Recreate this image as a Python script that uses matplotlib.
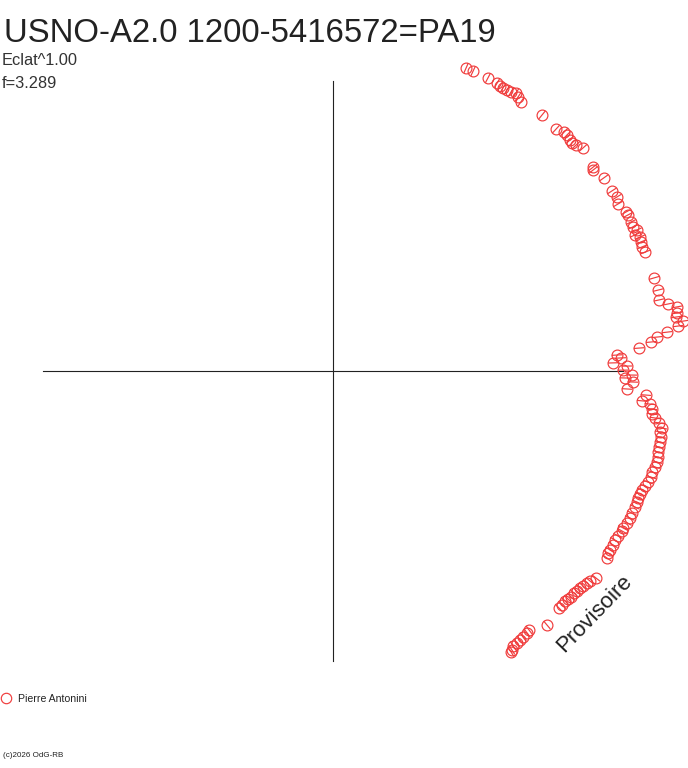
import numpy as np
import matplotlib
matplotlib.use("Agg")
import matplotlib.pyplot as plt
from matplotlib.collections import LineCollection
from matplotlib.lines import Line2D

plt.rcParams['font.family'] = ['Liberation Sans', 'DejaVu Sans']

x_vals = [0.459, 0.483, 0.534, 0.566, 0.576, 0.586, 0.600, 0.614, 0.631, 0.638,
          0.648, 0.721, 0.769, 0.797, 0.807, 0.817, 0.824, 0.838, 0.862, 0.897,
          0.897, 0.934, 0.962, 0.979, 0.983, 1.010, 1.017, 1.028, 1.034, 1.048,
          1.041, 1.059, 1.062, 1.066, 1.076, 1.107, 1.121, 1.124, 1.155, 1.186,
          1.186, 1.183, 1.207, 1.190, 1.152, 1.117, 1.097, 1.055, 0.979, 0.993,
          0.966, 1.014, 1.000, 1.031, 1.007, 1.034, 1.014, 1.079, 1.066, 1.093,
          1.100, 1.100, 1.110, 1.124, 1.134, 1.128, 1.131, 1.128, 1.124, 1.121,
          1.121, 1.117, 1.110, 1.100, 1.097, 1.086, 1.076, 1.066, 1.059, 1.052,
          1.048, 1.041, 1.031, 1.024, 1.014, 1.000, 0.997, 0.983, 0.972, 0.966,
          0.955, 0.948, 0.945, 0.907, 0.886, 0.876, 0.862, 0.852, 0.841, 0.831,
          0.821, 0.810, 0.800, 0.790, 0.779, 0.738, 0.676, 0.669, 0.655, 0.645,
          0.634, 0.621, 0.617, 0.614]
y_vals = [1.045, 1.034, 1.010, 0.993, 0.983, 0.976, 0.969, 0.962, 0.959, 0.945,
          0.928, 0.883, 0.834, 0.824, 0.814, 0.797, 0.786, 0.779, 0.769, 0.703,
          0.693, 0.666, 0.621, 0.600, 0.576, 0.548, 0.538, 0.514, 0.497, 0.486,
          0.469, 0.462, 0.445, 0.428, 0.410, 0.321, 0.279, 0.245, 0.231, 0.221,
          0.200, 0.186, 0.172, 0.155, 0.134, 0.117, 0.100, 0.079, 0.055, 0.045,
          0.028, 0.017, 0.003, -0.014, -0.024, -0.038, -0.062, -0.083, -0.103, -0.114,
          -0.131, -0.148, -0.162, -0.179, -0.197, -0.210, -0.228, -0.245, -0.262, -0.279,
          -0.297, -0.314, -0.331, -0.348, -0.366, -0.383, -0.397, -0.410, -0.424, -0.438,
          -0.452, -0.469, -0.490, -0.507, -0.524, -0.541, -0.552, -0.569, -0.583, -0.600,
          -0.617, -0.628, -0.645, -0.714, -0.724, -0.731, -0.741, -0.748, -0.759, -0.766,
          -0.779, -0.786, -0.793, -0.807, -0.817, -0.876, -0.893, -0.903, -0.917, -0.928,
          -0.938, -0.948, -0.962, -0.969]

title = "USNO-A2.0 1200-5416572=PA19"
eclat_label = "Eclat^1.00"
freq_label = "f=3.289"
observer = "Pierre Antonini"
copyright_txt = "(c)2026 OdG-RB"
stamp = "Provisoire"

red = '#f03c3c'
W, H = 688, 768
fig = plt.figure(figsize=(W / 100, H / 100), dpi=100)
ax = fig.add_axes([0, 0, 1, 1])
scale = 290.0
ax.set_xlim(-333 / scale, (W - 333) / scale)
ax.set_ylim(-(H - 371) / scale, 371 / scale)
ax.axis('off')

# axes du diagramme
ax.plot([0, 0], [-1, 1], color='#222222', lw=0.8)
ax.plot([-1, 1], [0, 0], color='#222222', lw=0.8)

x = np.array(x_vals)
y = np.array(y_vals)
ax.plot(x, y, 'o', ms=7.8, mfc='none', mec=red, mew=0.85)

# petit trait radial dans chaque cercle
ang = np.arctan2(y, x)
h = 5.2 / scale
segs = [[(xi - h * np.cos(a), yi - h * np.sin(a)), (xi + h * np.cos(a), yi + h * np.sin(a))]
        for xi, yi, a in zip(x, y, ang)]
ax.add_collection(LineCollection(segs, colors=red, linewidths=0.85))

def fx(px):
    return px / W

def fy(py):
    return 1 - py / H

fig.text(fx(4), fy(42), title, fontsize=23.7, color='#222222', va='baseline')
fig.text(fx(2), fy(65), eclat_label, fontsize=11.8, color='#333333', va='baseline')
fig.text(fx(2), fy(88), freq_label, fontsize=11.8, color='#333333', va='baseline')

fig.add_artist(Line2D([fx(6)], [fy(698)], marker='o', ms=7.5, mfc='none',
                      mec=red, mew=0.85, transform=fig.transFigure))
fig.text(fx(18), fy(702), observer, fontsize=7.6, color='#222222', va='baseline')
fig.text(fx(3), fy(757), copyright_txt, fontsize=5.8, color='#222222', va='baseline')

fig.text(fx(594), fy(614), stamp, fontsize=16, color='#222222', rotation=46,
         ha='center', va='center')

fig.savefig("out.png", dpi=100)
